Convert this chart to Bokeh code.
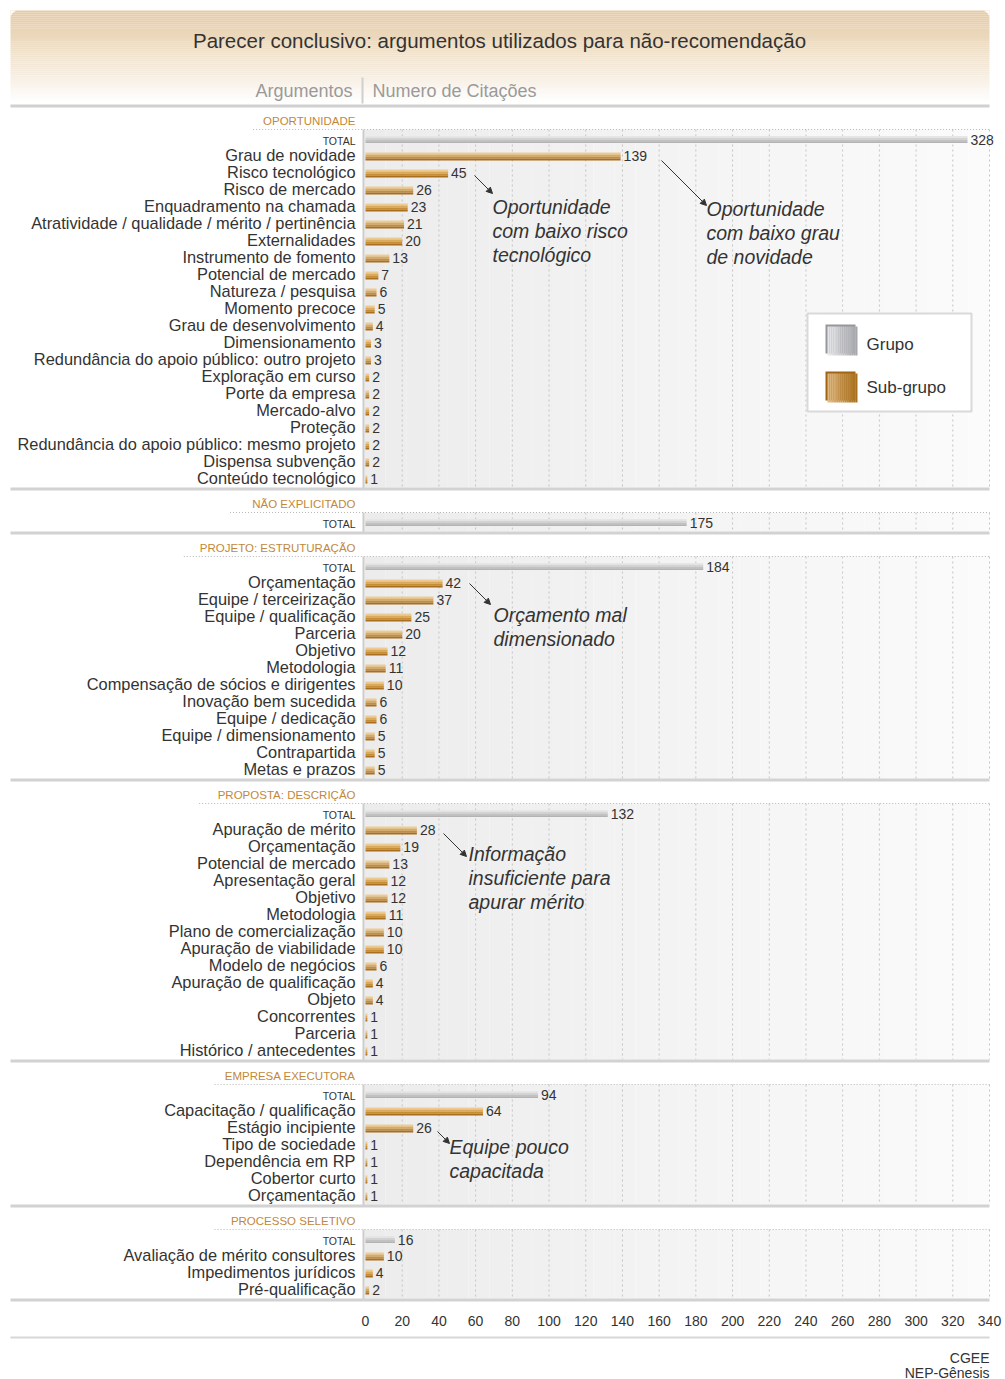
import numpy as np
from bokeh.plotting import figure
from bokeh.models import Range1d, Arrow, NormalHead
from bokeh.core.properties import value
from bokeh.embed import file_html
from bokeh.resources import INLINE

# ---------------- data ----------------
TITLE = "Parecer conclusivo: argumentos utilizados para não-recomendação"
HEAD_LEFT = "Argumentos"
HEAD_RIGHT = "Numero de Citações"

section_names = ["OPORTUNIDADE", "NÃO EXPLICITADO", "PROJETO: ESTRUTURAÇÃO",
                 "PROPOSTA: DESCRIÇÃO", "EMPRESA EXECUTORA", "PROCESSO SELETIVO"]
section_totals = [328, 175, 184, 132, 94, 16]

oportunidade_labels = ["Grau de novidade", "Risco tecnológico", "Risco de mercado",
                       "Enquadramento na chamada", "Atratividade / qualidade / mérito / pertinência",
                       "Externalidades", "Instrumento de fomento", "Potencial de mercado",
                       "Natureza / pesquisa", "Momento precoce", "Grau de desenvolvimento",
                       "Dimensionamento", "Redundância do apoio público: outro projeto",
                       "Exploração em curso", "Porte da empresa", "Mercado-alvo", "Proteção",
                       "Redundância do apoio público: mesmo projeto", "Dispensa subvenção",
                       "Conteúdo tecnológico"]
oportunidade_values = [139, 45, 26, 23, 21, 20, 13, 7, 6, 5, 4, 3, 3, 2, 2, 2, 2, 2, 2, 1]

nao_explicitado_labels = []
nao_explicitado_values = []

projeto_labels = ["Orçamentação", "Equipe / terceirização", "Equipe / qualificação", "Parceria",
                  "Objetivo", "Metodologia", "Compensação de sócios e dirigentes",
                  "Inovação bem sucedida", "Equipe / dedicação", "Equipe / dimensionamento",
                  "Contrapartida", "Metas e prazos"]
projeto_values = [42, 37, 25, 20, 12, 11, 10, 6, 6, 5, 5, 5]

proposta_labels = ["Apuração de mérito", "Orçamentação", "Potencial de mercado",
                   "Apresentação geral", "Objetivo", "Metodologia", "Plano de comercialização",
                   "Apuração de viabilidade", "Modelo de negócios", "Apuração de qualificação",
                   "Objeto", "Concorrentes", "Parceria", "Histórico / antecedentes"]
proposta_values = [28, 19, 13, 12, 12, 11, 10, 10, 6, 4, 4, 1, 1, 1]

empresa_labels = ["Capacitação / qualificação", "Estágio incipiente", "Tipo de sociedade",
                  "Dependência em RP", "Cobertor curto", "Orçamentação"]
empresa_values = [64, 26, 1, 1, 1, 1]

processo_labels = ["Avaliação de mérito consultores", "Impedimentos jurídicos", "Pré-qualificação"]
processo_values = [10, 4, 2]

section_labels = [oportunidade_labels, nao_explicitado_labels, projeto_labels,
                  proposta_labels, empresa_labels, processo_labels]
section_values = [oportunidade_values, nao_explicitado_values, projeto_values,
                  proposta_values, empresa_values, processo_values]

x_ticks = list(range(0, 341, 20))

legend_labels = ["Grupo", "Sub-grupo"]
source_lines = ["CGEE", "NEP-Gênesis"]

notes = [["Oportunidade", "com baixo risco", "tecnológico"],
         ["Oportunidade", "com baixo grau", "de novidade"],
         ["Orçamento mal", "dimensionado"],
         ["Informação", "insuficiente para", "apurar mérito"],
         ["Equipe pouco", "capacitada"]]

# ---------------- layout helpers ----------------
W, H = 1005, 1379
X0, X1 = 365, 989
XMAX = 340
S = (X1 - X0) / XMAX


def px(xp):
    return (xp - X0) / S


FONT = value("Liberation Sans")
TXT = "#333333"


def lerp(c1, c2, t):
    return "#%02x%02x%02x" % tuple(int(round(a + (b - a) * t)) for a, b in zip(c1, c2))


p = figure(width=W, height=H, x_range=Range1d(px(0), px(W)), y_range=Range1d(H, 0),
           output_backend="svg", toolbar_location=None, min_border=0,
           x_axis_location=None, y_axis_location=None, outline_line_color=None)
p.grid.visible = False
p.background_fill_color = "white"
p.border_fill_color = "white"


def text(x, y, t, size, align="left", color=TXT, style="normal", baseline="middle"):
    p.text(x=x, y=y, text=t, text_font=FONT, text_font_size=value(size),
           text_align=align, text_baseline=baseline, text_color=color,
           text_font_style=style)


# ---------------- header ----------------
n = 48
ys = np.linspace(10, 104, n + 1)
c_top, c_bot = (229, 204, 167), (255, 255, 255)
p.quad(left=[px(10)] * n, right=[px(989)] * n, top=list(ys[:-1]), bottom=list(ys[1:]),
       fill_color=[lerp(c_top, c_bot, (i / (n - 1)) ** 1.1) for i in range(n)], line_color=None)
# rounded top corners: white masks outside a quarter arc
R = 8
ang = np.linspace(0, np.pi / 2, 12)
for cx, sgn in ((10 + R, -1), (989 - R, 1)):
    arc_x = [cx + sgn * R * np.cos(a) for a in ang]
    arc_y = [10 + R - R * np.sin(a) for a in ang]
    corner_x = cx + sgn * R
    xs_ = [corner_x] + arc_x + [cx]
    ys_ = [10] + arc_y + [10]
    p.patch(x=[px(v) for v in xs_], y=ys_, fill_color="white", line_color=None)
text([px(499)], [40], [TITLE], "20.5px", align="center")
text([px(352)], [90], [HEAD_LEFT], "18px", align="right", color="#9a9a9a")
text([px(372)], [90], [HEAD_RIGHT], "18px", align="left", color="#9a9a9a")
p.segment(x0=[px(362)], y0=[77], x1=[px(362)], y1=[103], line_color="#cfcfcf", line_width=2)
p.segment(x0=[px(10)], y0=[105.5], x1=[px(989)], y1=[105.5], line_color="#d0d0d0", line_width=3)

TAN = ["#eccb93", "#d9a95d", "#c68d38", "#a96f1f"]
GRAY = ["#e6e6e6", "#d3d3d3", "#c1c1c1", "#b3b3b3"]


def layered_bar(yc, vals, h, cols):
    k = len(cols)
    for j, c in enumerate(cols):
        top = [y - h / 2 + j * h / k for y in yc]
        bot = [y - h / 2 + (j + 1) * h / k for y in yc]
        p.quad(left=[0] * len(vals), right=vals, top=top, bottom=bot, fill_color=c, line_color=None)


# ---------------- sections ----------------
s = 105
for si, (name, total, labels, vals) in enumerate(zip(section_names, section_totals,
                                                     section_labels, section_values)):
    hy, dy, ty = s + 15, s + 24, s + 34
    item_y = [s + 49 + 17 * i for i in range(len(labels))]
    sep = (item_y[-1] + 11) if labels else ty + 10

    # plot background gradient (left darker, right lighter)
    m = 30
    xs = np.linspace(px(364), XMAX, m + 1)
    p.quad(left=list(xs[:-1]), right=list(xs[1:]), top=[dy] * m, bottom=[sep - 1] * m,
           fill_color=[lerp((236, 236, 236), (251, 251, 251), i / (m - 1)) for i in range(m)],
           line_color=None)
    # vertical dashed gridlines
    gx = x_ticks[1:]
    p.segment(x0=gx, y0=[dy] * len(gx), x1=gx, y1=[sep - 1] * len(gx),
              line_color="#c4c4c4", line_width=1, line_dash="2 3")
    # top dotted line
    p.segment(x0=[px(355 - 7.7 * len(name) - 10)], y0=[dy], x1=[XMAX], y1=[dy],
              line_color="#b8b8b8", line_width=1, line_dash="1 2")
    # left axis line
    p.segment(x0=[px(363)], y0=[dy], x1=[px(363)], y1=[sep], line_color="#cccccc", line_width=2)
    # separator
    p.segment(x0=[px(10)], y0=[sep + 0.5], x1=[px(989)], y1=[sep + 0.5],
              line_color="#d2d2d2", line_width=3)

    # header & total
    text([px(355)], [hy], [name], "11.5px", align="right", color="#c2883a")
    text([px(355)], [ty + 1], ["TOTAL"], "10.5px", align="right")
    layered_bar([ty], [total], 7, GRAY)
    p.text(x=[total], y=[ty], text=[str(total)], x_offset=3, text_font=FONT,
           text_font_size=value("14px"), text_baseline="middle", text_color=TXT)

    if labels:
        text([px(355)] * len(labels), item_y, labels, "16.4px", align="right")
        by = [y + 2 for y in item_y]
        layered_bar(by, vals, 8, TAN)
        p.text(x=vals, y=[y + 1 for y in item_y], text=[str(v) for v in vals], x_offset=3,
               text_font=FONT, text_font_size=value("14px"), text_baseline="middle",
               text_color=TXT)
    s = sep

# ---------------- x axis tick labels ----------------
text(x_ticks, [1320] * len(x_ticks), [str(t) for t in x_ticks], "14px", align="center")
p.segment(x0=[px(10)], y0=[1337], x1=[px(989)], y1=[1337], line_color="#d8d8d8", line_width=2)
text([px(989)] * 2, [1357, 1372], source_lines, "14px", align="right")

# ---------------- annotations ----------------
note_pos = [(492, 206), (706, 208), (493, 614), (468, 853), (449, 1146)]
arrows = [((474, 175), (492, 193)), ((661, 160), (706, 205)), ((469, 583), (490, 604)),
          ((443, 833), (466, 856)), ((437, 1131), (449, 1143))]
for lines, (nx, ny) in zip(notes, note_pos):
    text([px(nx)] * len(lines), [ny + 24 * i for i in range(len(lines))], lines, "19.5px",
         style="italic")
for (a, b) in arrows:
    p.add_layout(Arrow(x_start=px(a[0]), y_start=a[1], x_end=px(b[0]), y_end=b[1],
                       line_color="#333333", line_width=1,
                       end=NormalHead(size=6, fill_color="#333333", line_color="#333333")))

# ---------------- legend ----------------
p.quad(left=[px(807)], right=[px(971)], top=[313], bottom=[411], fill_color="white",
       line_color="#d9d9d9", line_width=2)
sw = [((324, 355), (150, 150, 156), (230, 231, 234), (166, 167, 172)),
      ((371, 402), (160, 100, 18), (222, 184, 130), (168, 112, 28))]
for (y0, y1), shadow, cl, cr in sw:
    p.quad(left=[px(825)], right=[px(855)], top=[y0], bottom=[y1 - 2], fill_color=lerp(shadow, shadow, 0),
           line_color=None)
    k = 16
    xs = np.linspace(px(827), px(857), k + 1)
    p.quad(left=list(xs[:-1]), right=list(xs[1:]), top=[y0 + 2] * k, bottom=[y1] * k,
           fill_color=[lerp(cl, cr, i / (k - 1)) for i in range(k)], line_color=None)
text([px(866), px(866)], [344, 387], legend_labels, "17px")

open("out.html", "w").write(file_html(p, INLINE))
